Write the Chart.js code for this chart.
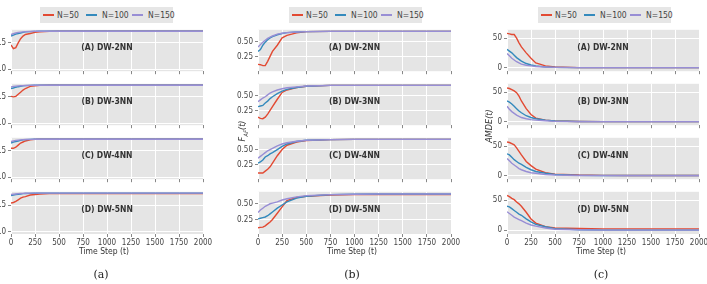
<!DOCTYPE html>
<html>
<head>
<meta charset="utf-8">
<script src="https://cdn.jsdelivr.net/npm/chart.js@4.4.1/dist/chart.umd.min.js"></script>
<style>
  body { margin: 0; width: 707px; height: 284px; overflow: hidden; position: relative; background: #fff;
         font-family: 'Liberation Sans Narrow', 'DejaVu Sans Condensed', 'DejaVu Sans', sans-serif; }
  canvas { position: absolute; }
  .legend { position: absolute; top: 7px; width: 133px; height: 16px; background: #e6e6e6; font-size: 8.5px; color: #444; }
  .legend .ln { position: absolute; top: 7px; width: 11px; height: 1.5px; }
  .legend .tx { position: absolute; top: 3px; line-height: 10px; }
  .xtitle { position: absolute; top: 246px; font-size: 8.5px; color: #333; transform: translateX(-50%); white-space: nowrap; }
  .sub { position: absolute; top: 268px; font-family: 'DejaVu Serif', 'Liberation Serif', serif; font-size: 11px; color: #222; transform: translateX(-50%); }
  .ytitle { position: absolute; font-size: 9px; font-style: italic; color: #333; transform: translate(-50%, -50%) rotate(-90deg); white-space: nowrap; }
</style>
</head>
<body>

<script>
// time steps shared by every panel
const steps = [0, 25, 50, 75, 100, 125, 150, 200, 250, 300, 400, 500, 750, 1000, 1250, 1500, 1750, 2000];

const panelNames = ['(A) DW-2NN', '(B) DW-3NN', '(C) DW-4NN', '(D) DW-5NN'];
const seriesNames = ['N=50', 'N=100', 'N=150'];
const seriesColors = ['#E24A33', '#348ABD', '#988ED5'];

// column (a), one row per panel A..D
const a50 = [
    [0.46, 0.39, 0.41, 0.50, 0.58, 0.63, 0.66, 0.68, 0.70, 0.71, 0.72, 0.722, 0.722, 0.722, 0.722, 0.722, 0.722, 0.722],
    [0.51, 0.50, 0.51, 0.55, 0.59, 0.63, 0.66, 0.70, 0.71, 0.72, 0.722, 0.722, 0.722, 0.722, 0.722, 0.722, 0.722, 0.722],
    [0.55, 0.55, 0.57, 0.61, 0.65, 0.67, 0.69, 0.71, 0.72, 0.722, 0.722, 0.722, 0.722, 0.722, 0.722, 0.722, 0.722, 0.722],
    [0.54, 0.55, 0.57, 0.60, 0.63, 0.65, 0.66, 0.69, 0.70, 0.71, 0.715, 0.715, 0.715, 0.715, 0.715, 0.715, 0.715, 0.715]
];
const a100 = [
    [0.63, 0.65, 0.67, 0.68, 0.69, 0.70, 0.71, 0.715, 0.72, 0.722, 0.722, 0.722, 0.722, 0.722, 0.722, 0.722, 0.722, 0.722],
    [0.66, 0.67, 0.685, 0.695, 0.70, 0.71, 0.715, 0.72, 0.722, 0.722, 0.722, 0.722, 0.722, 0.722, 0.722, 0.722, 0.722, 0.722],
    [0.65, 0.67, 0.68, 0.69, 0.70, 0.71, 0.715, 0.72, 0.722, 0.722, 0.722, 0.722, 0.722, 0.722, 0.722, 0.722, 0.722, 0.722],
    [0.68, 0.69, 0.70, 0.705, 0.71, 0.715, 0.718, 0.72, 0.722, 0.725, 0.725, 0.725, 0.725, 0.725, 0.725, 0.725, 0.725, 0.725]
];
const a150 = [
    [0.66, 0.675, 0.69, 0.70, 0.705, 0.71, 0.715, 0.72, 0.722, 0.722, 0.722, 0.722, 0.722, 0.722, 0.722, 0.722, 0.722, 0.722],
    [0.69, 0.70, 0.705, 0.71, 0.712, 0.715, 0.718, 0.72, 0.722, 0.722, 0.722, 0.722, 0.722, 0.722, 0.722, 0.722, 0.722, 0.722],
    [0.68, 0.69, 0.70, 0.705, 0.71, 0.715, 0.718, 0.72, 0.722, 0.722, 0.722, 0.722, 0.722, 0.722, 0.722, 0.722, 0.722, 0.722],
    [0.70, 0.705, 0.71, 0.715, 0.718, 0.72, 0.722, 0.725, 0.725, 0.725, 0.725, 0.725, 0.725, 0.725, 0.725, 0.725, 0.725, 0.725]
];

// column (b)
const b50 = [
    [0.13, 0.125, 0.11, 0.11, 0.18, 0.26, 0.34, 0.44, 0.56, 0.60, 0.64, 0.66, 0.665, 0.665, 0.665, 0.665, 0.665, 0.665],
    [0.15, 0.13, 0.125, 0.15, 0.20, 0.26, 0.32, 0.44, 0.55, 0.59, 0.63, 0.65, 0.665, 0.665, 0.665, 0.665, 0.665, 0.665],
    [0.12, 0.12, 0.12, 0.15, 0.18, 0.22, 0.28, 0.40, 0.50, 0.57, 0.62, 0.645, 0.66, 0.665, 0.665, 0.665, 0.665, 0.665],
    [0.12, 0.125, 0.13, 0.15, 0.18, 0.21, 0.25, 0.35, 0.45, 0.55, 0.60, 0.62, 0.64, 0.645, 0.645, 0.645, 0.645, 0.645]
];
const b100 = [
    [0.34, 0.37, 0.44, 0.49, 0.53, 0.56, 0.58, 0.61, 0.63, 0.645, 0.655, 0.66, 0.665, 0.665, 0.665, 0.665, 0.665, 0.665],
    [0.32, 0.33, 0.34, 0.38, 0.41, 0.45, 0.48, 0.53, 0.57, 0.60, 0.63, 0.65, 0.665, 0.665, 0.665, 0.665, 0.665, 0.665],
    [0.28, 0.30, 0.33, 0.38, 0.40, 0.43, 0.45, 0.50, 0.55, 0.59, 0.63, 0.65, 0.66, 0.665, 0.665, 0.665, 0.665, 0.665],
    [0.26, 0.27, 0.28, 0.29, 0.31, 0.34, 0.37, 0.43, 0.48, 0.53, 0.59, 0.62, 0.645, 0.65, 0.655, 0.655, 0.655, 0.655]
];
const b150 = [
    [0.41, 0.45, 0.49, 0.52, 0.55, 0.57, 0.59, 0.62, 0.635, 0.645, 0.655, 0.66, 0.665, 0.665, 0.665, 0.665, 0.665, 0.665],
    [0.40, 0.43, 0.46, 0.48, 0.51, 0.54, 0.56, 0.59, 0.61, 0.625, 0.64, 0.655, 0.665, 0.665, 0.665, 0.665, 0.665, 0.665],
    [0.36, 0.39, 0.42, 0.45, 0.48, 0.50, 0.52, 0.56, 0.59, 0.61, 0.635, 0.65, 0.66, 0.665, 0.665, 0.665, 0.665, 0.665],
    [0.36, 0.40, 0.43, 0.46, 0.48, 0.50, 0.51, 0.53, 0.56, 0.58, 0.61, 0.63, 0.645, 0.65, 0.655, 0.655, 0.655, 0.655]
];

// column (c)
const c50 = [
    [58, 57, 56, 56, 50, 42, 35, 25, 16, 8, 3, 1, 0, 0, 0, 0, 0, 0],
    [57, 56, 54, 52, 49, 43, 35, 22, 12, 6, 2.5, 1, 0.3, 0, 0, 0, 0, 0],
    [57, 56, 54, 52, 47, 41, 35, 24, 17, 11, 5, 2.5, 1, 0.5, 0.3, 0.3, 0.3, 0.3],
    [58, 56, 53, 51, 47, 44, 40, 30, 19, 12, 6, 4, 3, 2.5, 2.5, 2.5, 2.5, 2.5]
];
const c100 = [
    [31, 28, 25, 21, 17, 14, 11, 7, 4.5, 3, 1, 0.5, 0, 0, 0, 0, 0, 0],
    [35, 33, 30, 26, 22, 18, 15, 10, 7, 5, 2.5, 1, 0.3, 0, 0, 0, 0, 0],
    [37, 35, 31, 27, 24, 21, 19, 14, 10, 7, 4, 2, 0.5, 0.3, 0.3, 0.3, 0.3, 0.3],
    [40, 39, 36, 33, 30, 27, 25, 19, 14, 10, 6, 3, 1, 0.5, 0.5, 0.5, 0.5, 0.5]
];
const c150 = [
    [24, 20, 16, 13, 10, 8, 6, 4, 3, 2, 1, 0.5, 0, 0, 0, 0, 0, 0],
    [26, 21, 17, 14, 11, 9, 7, 5, 3.5, 2.5, 1.5, 0.5, 0, 0, 0, 0, 0, 0],
    [29, 25, 21, 18, 15, 12, 10, 7, 5, 4, 2, 1, 0.3, 0, 0, 0, 0, 0],
    [31, 28, 25, 22, 20, 18, 16, 12, 9, 7, 4, 2, 1, 0.5, 0.5, 0.5, 0.5, 0.5]
];

// tick labels
const xTicks = [0, 250, 500, 750, 1000, 1250, 1500, 1750, 2000];
const yTicksA = [0, 0.5];
const yTicksB = [0.25, 0.5];
const yTicksC = [0, 50];

const columns = [
    { key: 'a', left: 11, right: 203, min: -0.04, max: 0.75, yTicks: yTicksA, digits: 1, series: [a50, a100, a150],
      legendLeft: 40, titleX: 104, subX: 101 },
    { key: 'b', left: 258, right: 451, min: 0.02, max: 0.69, yTicks: yTicksB, digits: 2, series: [b50, b100, b150],
      legendLeft: 289, titleX: 352, subX: 352 },
    { key: 'c', left: 507, right: 699, min: -6, max: 64, yTicks: yTicksC, digits: 0, series: [c50, c100, c150],
      legendLeft: 538, titleX: 601, subX: 601 }
];
const rowTops = [27, 81, 135, 189];
const panelH = 45;
const yAxisW = 40;
const padTop = 4;
const padRight = 14;

const narrow = "'Liberation Sans Narrow', 'DejaVu Sans Condensed', 'DejaVu Sans', sans-serif";
const tickFont = { family: narrow, size: 8 };

//grey panel background + centred panel label
const panelDeco = {
    id: 'panelDeco',
    beforeDraw(chart) {
        const a = chart.chartArea;
        const ctx = chart.ctx;
        ctx.save();
        ctx.fillStyle = '#E5E5E5';
        ctx.fillRect(a.left, a.top, a.right - a.left, a.bottom - a.top);
        ctx.restore();
    },
    afterDatasetsDraw(chart, args, opts) {
        const a = chart.chartArea;
        const ctx = chart.ctx;
        ctx.save();
        ctx.font = 'bold 8.5px ' + narrow;
        ctx.fillStyle = '#333';
        ctx.textAlign = 'center';
        ctx.textBaseline = 'middle';
        ctx.fillText(opts.text, (a.left + a.right) / 2, (a.top + a.bottom) / 2 - 3);
        ctx.restore();
    }
};

function makePanel(col, row) {
    const bottomRow = row === rowTops.length - 1;
    const xH = bottomRow ? 15 : 6;
    const plotW = col.right - col.left;

    const canvas = document.createElement('canvas');
    canvas.width = plotW + yAxisW + padRight;
    canvas.height = panelH + padTop + xH;
    canvas.style.left = (col.left - yAxisW) + 'px';
    canvas.style.top = (rowTops[row] - padTop) + 'px';
    document.body.appendChild(canvas);

    // purple on top, red at the bottom
    const datasets = col.series.map((s, i) => ({
        label: seriesNames[i],
        data: steps.map((t, j) => ({ x: t, y: s[row][j] })),
        borderColor: seriesColors[i],
        borderWidth: 1.4,
        pointRadius: 0,
        tension: 0,
        order: 2 - i
    }));

    new Chart(canvas, {
        type: 'line',
        data: { datasets: datasets },
        options: {
            responsive: false,
            animation: false,
            devicePixelRatio: 1,
            layout: { padding: { top: padTop, right: padRight, left: 0, bottom: 0 }, autoPadding: false },
            scales: {
                x: {
                    type: 'linear',
                    min: 0,
                    max: 2000,
                    afterBuildTicks: s => { s.ticks = xTicks.map(v => ({ value: v })); },
                    afterFit: s => { s.height = xH; },
                    grid: { color: '#ffffff', lineWidth: 1, tickColor: '#888', tickLength: 3 },
                    border: { display: false },
                    ticks: { display: bottomRow, color: '#444', font: tickFont, padding: 1, maxRotation: 0, autoSkip: false,
                             callback: v => String(v) }
                },
                y: {
                    min: col.min,
                    max: col.max,
                    afterBuildTicks: s => { s.ticks = col.yTicks.map(v => ({ value: v })); },
                    afterFit: s => { s.width = yAxisW; },
                    grid: { color: '#ffffff', lineWidth: 1, tickColor: '#888', tickLength: 3 },
                    border: { display: false },
                    ticks: { color: '#444', font: tickFont, padding: 2, callback: v => v.toFixed(col.digits) }
                }
            },
            plugins: {
                legend: { display: false },
                tooltip: { enabled: false },
                panelDeco: { text: panelNames[row] }
            }
        },
        plugins: [panelDeco]
    });
}

//legend box above each column
function makeLegend(col) {
    const box = document.createElement('div');
    box.className = 'legend';
    box.style.left = col.legendLeft + 'px';
    const lineX = [3, 46, 92];
    const textX = [17, 62, 108];
    seriesNames.forEach((name, i) => {
        const ln = document.createElement('span');
        ln.className = 'ln';
        ln.style.left = lineX[i] + 'px';
        ln.style.background = seriesColors[i];
        const tx = document.createElement('span');
        tx.className = 'tx';
        tx.style.left = textX[i] + 'px';
        tx.textContent = name;
        box.appendChild(ln);
        box.appendChild(tx);
    });
    document.body.appendChild(box);
}

function addText(cls, html, x, y) {
    const d = document.createElement('div');
    d.className = cls;
    d.innerHTML = html;
    d.style.left = x + 'px';
    if (y !== undefined) d.style.top = y + 'px';
    document.body.appendChild(d);
}

columns.forEach(col => {
    rowTops.forEach((t, row) => makePanel(col, row));
    makeLegend(col);
    addText('xtitle', 'Time Step (t)', col.titleX);
    addText('sub', '(' + col.key + ')', col.subX);
});

addText('ytitle', 'F<sub style="font-size:6px">AF</sub>(t)', 243, 131);
addText('ytitle', 'AMDE(t)', 489, 126);
</script>
</body>
</html>
